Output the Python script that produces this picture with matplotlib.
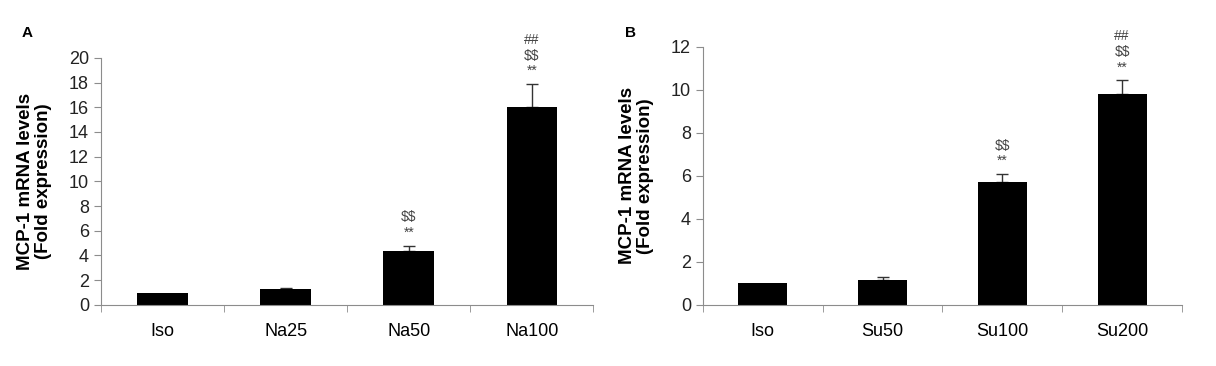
import matplotlib
matplotlib.use('Agg')
import matplotlib.pyplot as plt
import numpy as np

# panel A data
na_labels = ['Iso', 'Na25', 'Na50', 'Na100']
na_values = [1.0, 1.25, 4.35, 16.0]
na_err = [0.0, 0.15, 0.45, 1.9]
na_marks = ['', '', '\\$\\$\n**', '##\n\\$\\$\n**']

# panel B data
su_labels = ['Iso', 'Su50', 'Su100', 'Su200']
su_values = [1.0, 1.15, 5.7, 9.8]
su_err = [0.0, 0.15, 0.4, 0.65]
su_marks = ['', '', '\\$\\$\n**', '##\n\\$\\$\n**']

plt.rcParams['font.family'] = ['Liberation Sans', 'DejaVu Sans']
axis_gray = '#8c8c8c'


def draw_panel(ax, labels, values, err, marks, ymax, ystep):
    x_pos = np.arange(len(labels))
    ax.bar(x_pos, values, width=0.41, color='black', zorder=2)
    # only upper error bars, skip the ones without error
    has_err = np.array(err) > 0
    lower = np.zeros(has_err.sum())
    ax.errorbar(x_pos[has_err], np.array(values)[has_err],
                yerr=[lower, np.array(err)[has_err]], fmt='none', ecolor='#333333',
                elinewidth=1.0, capsize=4, capthick=1.0, zorder=1)
    for x, v, e, m in zip(x_pos, values, err, marks):
        if m:
            ax.annotate(m, (x, v + e), xytext=(0, 4), textcoords='offset points',
                        ha='center', va='bottom', fontsize=10, color='#444444',
                        linespacing=1.15)
    ax.set_xlim(-0.5, len(labels) - 0.5)
    ax.set_ylim(0, ymax)
    ax.set_yticks(np.arange(0, ymax + 0.1, ystep))
    ax.set_xticks(x_pos)
    ax.set_xticklabels(labels, fontsize=13)
    ax.set_xticks(np.arange(-0.5, len(labels), 1.0), minor=True)
    ax.tick_params(axis='x', which='major', length=0, pad=13)
    ax.tick_params(axis='x', which='minor', length=5, color=axis_gray)
    ax.tick_params(axis='y', length=5, color=axis_gray, labelsize=13, colors='#222222')
    ax.tick_params(axis='y', color=axis_gray)
    for s in ['top', 'right']:
        ax.spines[s].set_visible(False)
    for s in ['left', 'bottom']:
        ax.spines[s].set_color(axis_gray)
    ax.set_ylabel('MCP-1 mRNA levels\n(Fold expression)', fontsize=13.5,
                  fontweight='bold', labelpad=12, linespacing=1.1)


fig = plt.figure(figsize=(12.16, 3.66), dpi=100)
ax_a = fig.add_axes([0.083, 0.167, 0.405, 0.675])
ax_b = fig.add_axes([0.578, 0.167, 0.394, 0.705])

draw_panel(ax_a, na_labels, na_values, na_err, na_marks, 20, 2)
draw_panel(ax_b, su_labels, su_values, su_err, su_marks, 12, 2)

fig.text(22 / 1216, 1 - 33 / 366, 'A', fontsize=11, fontweight='bold', va='center')
fig.text(625 / 1216, 1 - 33 / 366, 'B', fontsize=11, fontweight='bold', va='center')

fig.savefig('out.png', dpi=100)
